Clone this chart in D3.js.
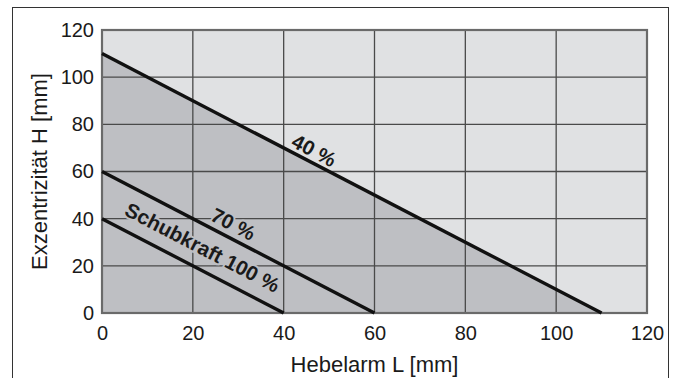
<!DOCTYPE html>
<html>
<head>
<meta charset="utf-8">
<script src="https://cdn.jsdelivr.net/npm/d3@7"></script>
<style>
  body { margin: 0; background: #fff; }
  svg text { font-family: "Liberation Sans", Arial, sans-serif; fill: #1a1a1a; }
</style>
</head>
<body>
<div id="chart"></div>
<script>
// data
const xTicks = [0, 20, 40, 60, 80, 100, 120];
const yTicks = [0, 20, 40, 60, 80, 100, 120];
const lineNames = ["40 %", "70 %", "Schubkraft 100 %"];
const lineStartH = [110, 60, 40];   // H at L = 0
const lineEndL = [110, 60, 40];     // L at H = 0
const labelAtL = [45.5, 27.5, 20];  // where the label sits along each line
const labelGap = [12, 14, 21];      // distance of label centre above line, px

const lightFill = "#e0e1e3", darkFill = "#bebfc3";

const width = 675, height = 378;
const margin = {top: 30, right: 28, bottom: 65, left: 102};

const svg = d3.select("#chart").append("svg")
    .attr("width", width)
    .attr("height", height);

// outer frame
svg.append("rect")
    .attr("x", 12.5).attr("y", 7.5)
    .attr("width", 656).attr("height", 380)
    .attr("fill", "none")
    .attr("stroke", "#333")
    .attr("stroke-width", 1);

const x = d3.scaleLinear().domain([0, 120]).range([margin.left, width - margin.right]);
const y = d3.scaleLinear().domain([0, 120]).range([height - margin.bottom, margin.top]);

// light background
svg.append("rect")
    .attr("x", x(0)).attr("y", y(120))
    .attr("width", x(120) - x(0)).attr("height", y(0) - y(120))
    .attr("fill", lightFill);

// dark area below the 40 % line
svg.append("path")
    .datum([[0, 0], [0, lineStartH[0]], [lineEndL[0], 0]])
    .attr("d", d3.line().x(d => x(d[0])).y(d => y(d[1])))
    .attr("fill", darkFill);

// grid
svg.append("g").selectAll("line").data(xTicks.slice(1, -1)).join("line")
    .attr("x1", d => x(d)).attr("x2", d => x(d))
    .attr("y1", y(0)).attr("y2", y(120))
    .attr("stroke", "#4a4a4a").attr("stroke-width", 1.3);
svg.append("g").selectAll("line").data(yTicks.slice(1, -1)).join("line")
    .attr("x1", x(0)).attr("x2", x(120))
    .attr("y1", d => y(d)).attr("y2", d => y(d))
    .attr("stroke", "#4a4a4a").attr("stroke-width", 1.3);

// labels along the lines (halo hides the grid behind them)
lineNames.forEach((name, i) => {
    const lx = labelAtL[i];
    const ly = lineStartH[i] - lineStartH[i] / lineEndL[i] * lx;
    const a = Math.atan2(y(0) - y(lineStartH[i]), x(lineEndL[i]) - x(0));
    const cx = x(lx) + Math.sin(a) * labelGap[i];
    const cy = y(ly) - Math.cos(a) * labelGap[i];
    svg.append("text")
        .attr("transform", `translate(${cx},${cy}) rotate(${a * 180 / Math.PI})`)
        .attr("text-anchor", "middle")
        .attr("dy", "0.36em")
        .attr("font-size", 20.5)
        .attr("font-weight", "bold")
        .attr("stroke", i === 0 ? lightFill : darkFill)
        .attr("stroke-width", 4)
        .attr("paint-order", "stroke")
        .text(name);
});

// plot border
svg.append("rect")
    .attr("x", x(0)).attr("y", y(120))
    .attr("width", x(120) - x(0)).attr("height", y(0) - y(120))
    .attr("fill", "none")
    .attr("stroke", "#6a6a6a").attr("stroke-width", 2.2);

// limit lines
lineNames.forEach((name, i) => {
    svg.append("line")
        .attr("x1", x(0)).attr("y1", y(lineStartH[i]))
        .attr("x2", x(lineEndL[i])).attr("y2", y(0))
        .attr("stroke", "#111").attr("stroke-width", 3.4);
});

// axes
const xAxis = d3.axisBottom(x).tickValues(xTicks).tickSize(0).tickPadding(13);
svg.append("g")
    .attr("transform", `translate(0,${y(0)})`)
    .call(xAxis)
    .call(g => g.select(".domain").remove())
    .selectAll("text").attr("font-size", 20).attr("fill", "#1a1a1a");

const yAxis = d3.axisLeft(y).tickValues(yTicks).tickSize(0).tickPadding(8);
svg.append("g")
    .attr("transform", `translate(${x(0)},0)`)
    .call(yAxis)
    .call(g => g.select(".domain").remove())
    .selectAll("text").attr("font-size", 20).attr("fill", "#1a1a1a");

svg.append("text")
    .attr("x", (x(0) + x(120)) / 2).attr("y", 372)
    .attr("text-anchor", "middle")
    .attr("font-size", 22)
    .text("Hebelarm L [mm]");

svg.append("text")
    .attr("transform", `translate(47,${(y(0) + y(120)) / 2}) rotate(-90)`)
    .attr("text-anchor", "middle")
    .attr("font-size", 22)
    .text("Exzentrizität H [mm]");
</script>
</body>
</html>
